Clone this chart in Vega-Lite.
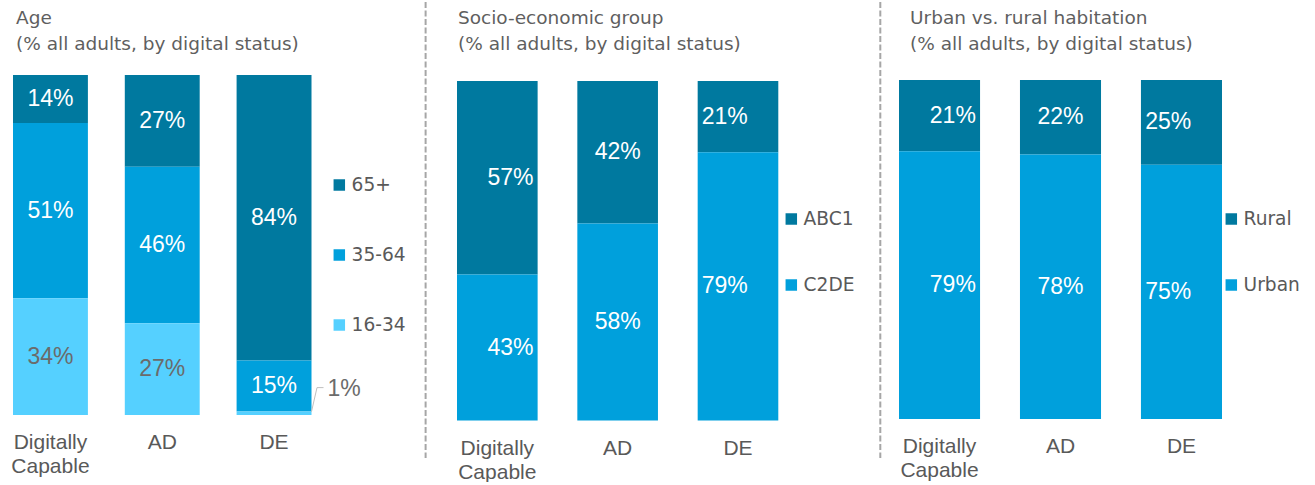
{
  "$schema": "https://vega.github.io/schema/vega-lite/v6.json",
  "autosize": {"type": "pad"},
  "padding": {"left": 10, "top": 0, "right": 0, "bottom": 0},
  "background": "white",
  "spacing": 120,
  "bounds": "flush",
  "config": {
    "view": {"stroke": null},
    "font": "Liberation Sans",
    "title": {"anchor": "start", "font": "DejaVu Sans", "fontSize": 18.5, "fontWeight": "normal", "color": "#5f5f5f", "lineHeight": 25.5, "offset": 22, "frame": "group"},
    "legend": {"orient": "none", "direction": "vertical", "title": null, "symbolType": "square", "symbolSize": 132, "symbolStrokeWidth": 0, "symbolOpacity": 1, "labelFont": "DejaVu Sans", "labelFontSize": 18.6, "labelColor": "#595959", "rowPadding": 51, "labelOffset": 3, "padding": 0},
    "axisX": {"title": null, "domain": false, "ticks": false, "labelPadding": 16, "labelFont": "Liberation Sans", "labelFontSize": 21, "labelColor": "#595959", "labelExpr": "split(datum.label, ' ')", "labelLineHeight": 24, "labelAngle": 0, "labelOverlap": false}
  },
  "datasets": {
    "main": [
      {"panel": "age", "cat": "Digitally Capable", "group": "65+", "value": 0.14},
      {"panel": "age", "cat": "Digitally Capable", "group": "35-64", "value": 0.51},
      {"panel": "age", "cat": "Digitally Capable", "group": "16-34", "value": 0.34},
      {"panel": "age", "cat": "AD", "group": "65+", "value": 0.27},
      {"panel": "age", "cat": "AD", "group": "35-64", "value": 0.46},
      {"panel": "age", "cat": "AD", "group": "16-34", "value": 0.27},
      {"panel": "age", "cat": "DE", "group": "65+", "value": 0.84},
      {"panel": "age", "cat": "DE", "group": "35-64", "value": 0.15},
      {"panel": "age", "cat": "DE", "group": "16-34", "value": 0.01},
      {"panel": "seg", "cat": "Digitally Capable", "group": "ABC1", "value": 0.57},
      {"panel": "seg", "cat": "Digitally Capable", "group": "C2DE", "value": 0.43},
      {"panel": "seg", "cat": "AD", "group": "ABC1", "value": 0.42},
      {"panel": "seg", "cat": "AD", "group": "C2DE", "value": 0.58},
      {"panel": "seg", "cat": "DE", "group": "ABC1", "value": 0.21},
      {"panel": "seg", "cat": "DE", "group": "C2DE", "value": 0.79},
      {"panel": "urban", "cat": "Digitally Capable", "group": "Rural", "value": 0.21},
      {"panel": "urban", "cat": "Digitally Capable", "group": "Urban", "value": 0.79},
      {"panel": "urban", "cat": "AD", "group": "Rural", "value": 0.22},
      {"panel": "urban", "cat": "AD", "group": "Urban", "value": 0.78},
      {"panel": "urban", "cat": "DE", "group": "Rural", "value": 0.25},
      {"panel": "urban", "cat": "DE", "group": "Urban", "value": 0.75}
    ],
    "sep": [{"line": "separator"}]
  },
  "hconcat": [
    {
      "width": 323.7,
      "height": 340,
      "title": {"text": ["Age", "(% all adults, by digital status)"], "dx": 3},
      "data": {"name": "main"},
      "transform": [
        {"filter": "datum.panel === 'age'"},
        {"stack": "value", "groupby": ["cat"], "sort": [{"field": "group", "order": "ascending"}], "as": ["y0", "y1"], "offset": "normalize"},
        {"calculate": "(datum.y0 + datum.y1) / 2", "as": "ymid"}
      ],
      "layer": [
        {
          "mark": {"type": "bar"},
          "encoding": {
            "x": {"field": "cat", "type": "nominal", "sort": ["Digitally Capable", "AD", "DE"], "scale": {"paddingInner": 0.33, "paddingOuter": 0.1127, "align": 0}},
            "y": {"field": "y0", "type": "quantitative", "scale": {"domain": [0, 1], "nice": false}, "axis": null},
            "y2": {"field": "y1"},
            "color": {"field": "group", "type": "nominal", "scale": {"domain": ["65+", "35-64", "16-34"], "range": ["#00799F", "#00A0DC", "#55D0FF"]}, "legend": {"legendX": 317, "legendY": 100.7}}
          }
        },
        {
          "transform": [{"filter": "datum.value >= 0.05"}],
          "mark": {"type": "text", "baseline": "middle", "align": "center", "font": "Liberation Sans", "fontSize": 23},
          "encoding": {
            "x": {"field": "cat", "type": "nominal", "sort": ["Digitally Capable", "AD", "DE"]},
            "y": {"field": "ymid", "type": "quantitative"},
            "text": {"field": "value", "type": "quantitative", "format": ".0%"},
            "color": {"condition": {"test": "datum.group === '16-34'", "value": "#6b6b6b"}, "value": "white"}
          }
        },
        {
          "transform": [{"filter": "datum.value < 0.05"}],
          "mark": {"type": "text", "baseline": "middle", "align": "left", "font": "Liberation Sans", "fontSize": 23, "dx": 16, "dy": -24, "color": "#6b6b6b"},
          "encoding": {
            "x": {"field": "cat", "type": "nominal", "sort": ["Digitally Capable", "AD", "DE"], "bandPosition": 1},
            "y": {"field": "ymid", "type": "quantitative"},
            "text": {"field": "value", "type": "quantitative", "format": ".0%"}
          }
        },
        {
          "transform": [{"filter": "datum.value < 0.05"}],
          "mark": {"type": "rule", "color": "#bfbfbf", "strokeWidth": 1, "x2Offset": 5.5, "y2Offset": -24},
          "encoding": {
            "x": {"field": "cat", "type": "nominal", "sort": ["Digitally Capable", "AD", "DE"], "bandPosition": 1},
            "x2": {"field": "cat", "bandPosition": 1},
            "y": {"field": "y1", "type": "quantitative"},
            "y2": {"field": "y1"}
          }
        },
        {
          "transform": [{"filter": "datum.value < 0.05"}],
          "mark": {"type": "rule", "color": "#bfbfbf", "strokeWidth": 1, "xOffset": 5.5, "x2Offset": 12, "yOffset": -24, "y2Offset": -24},
          "encoding": {
            "x": {"field": "cat", "type": "nominal", "sort": ["Digitally Capable", "AD", "DE"], "bandPosition": 1},
            "x2": {"field": "cat", "bandPosition": 1},
            "y": {"field": "y1", "type": "quantitative"},
            "y2": {"field": "y1"}
          }
        }
      ]
    },
    {
      "width": 321.3,
      "height": 346,
      "title": {"text": ["Socio-economic group", "(% all adults, by digital status)"], "dx": 1, "offset": -52.5},
      "data": {"name": "main"},
      "transform": [
        {"filter": "datum.panel === 'seg'"},
        {"stack": "value", "groupby": ["cat"], "sort": [{"field": "group", "order": "descending"}], "as": ["y0", "y1"], "offset": "normalize"},
        {"calculate": "(datum.y0 + datum.y1) / 2", "as": "ymid"}
      ],
      "resolve": {"scale": {"x": "independent"}},
      "layer": [
        {
          "mark": {"type": "bar"},
          "encoding": {
            "x": {"field": "cat", "type": "nominal", "sort": ["Digitally Capable", "AD", "DE"], "scale": {"paddingInner": 0.33, "paddingOuter": 0}},
            "y": {"field": "y0", "type": "quantitative", "scale": {"domain": [0, 1], "nice": false, "range": [345.5, 6]}, "axis": null},
            "y2": {"field": "y1"},
            "color": {"field": "group", "type": "nominal", "scale": {"domain": ["ABC1", "C2DE"], "range": ["#00799F", "#00A0DC"]}, "legend": {"legendX": 325, "legendY": 134.7, "rowPadding": 47}}
          }
        },
        {
          "mark": {"type": "text", "baseline": "middle", "align": "center", "font": "Liberation Sans", "fontSize": 23, "color": "white"},
          "encoding": {
            "x": {"field": "cat", "type": "nominal", "sort": ["Digitally Capable", "AD", "DE"], "scale": {"paddingInner": 0.33, "paddingOuter": 0}, "axis": null},
            "y": {"field": "ymid", "type": "quantitative"},
            "text": {"field": "value", "type": "quantitative", "format": ".0%"}
          }
        },
        {
          "data": {"name": "sep"},
          "mark": {"type": "rule", "color": "#a6a6a6", "strokeWidth": 2, "strokeDash": [6, 2.5], "clip": false},
          "encoding": {
            "x": {"datum": -0.0977, "type": "quantitative", "scale": {"domain": [0, 1], "nice": false, "zero": false}, "axis": null},
            "y": {"datum": 1.2327, "type": "quantitative"},
            "y2": {"datum": -0.1105}
          }
        }
      ]
    },
    {
      "width": 323,
      "height": 344,
      "title": {"text": ["Urban vs. rural habitation", "(% all adults, by digital status)"], "dx": 11, "offset": -52.5},
      "data": {"name": "main"},
      "transform": [
        {"filter": "datum.panel === 'urban'"},
        {"stack": "value", "groupby": ["cat"], "sort": [{"field": "group", "order": "descending"}], "as": ["y0", "y1"], "offset": "normalize"},
        {"calculate": "(datum.y0 + datum.y1) / 2", "as": "ymid"}
      ],
      "resolve": {"scale": {"x": "independent"}},
      "layer": [
        {
          "mark": {"type": "bar"},
          "encoding": {
            "x": {"field": "cat", "type": "nominal", "sort": ["Digitally Capable", "AD", "DE"], "scale": {"paddingInner": 0.33, "paddingOuter": 0}},
            "y": {"field": "y0", "type": "quantitative", "scale": {"domain": [0, 1], "nice": false, "range": [344, 5]}, "axis": null},
            "y2": {"field": "y1"},
            "color": {"field": "group", "type": "nominal", "scale": {"domain": ["Rural", "Urban"], "range": ["#00799F", "#00A0DC"]}, "legend": {"legendX": 323, "legendY": 134.7, "rowPadding": 47}}
          }
        },
        {
          "mark": {"type": "text", "baseline": "middle", "align": "center", "font": "Liberation Sans", "fontSize": 23, "color": "white"},
          "encoding": {
            "x": {"field": "cat", "type": "nominal", "sort": ["Digitally Capable", "AD", "DE"], "scale": {"paddingInner": 0.33, "paddingOuter": 0}, "axis": null},
            "y": {"field": "ymid", "type": "quantitative"},
            "text": {"field": "value", "type": "quantitative", "format": ".0%"}
          }
        },
        {
          "data": {"name": "sep"},
          "mark": {"type": "rule", "color": "#a6a6a6", "strokeWidth": 2, "strokeDash": [6, 2.5], "clip": false},
          "encoding": {
            "x": {"datum": -0.0579, "type": "quantitative", "scale": {"domain": [0, 1], "nice": false, "zero": false}, "axis": null},
            "y": {"datum": 1.2301, "type": "quantitative"},
            "y2": {"datum": -0.115}
          }
        }
      ]
    }
  ],
  "resolve": {"scale": {"color": "independent"}}
}
